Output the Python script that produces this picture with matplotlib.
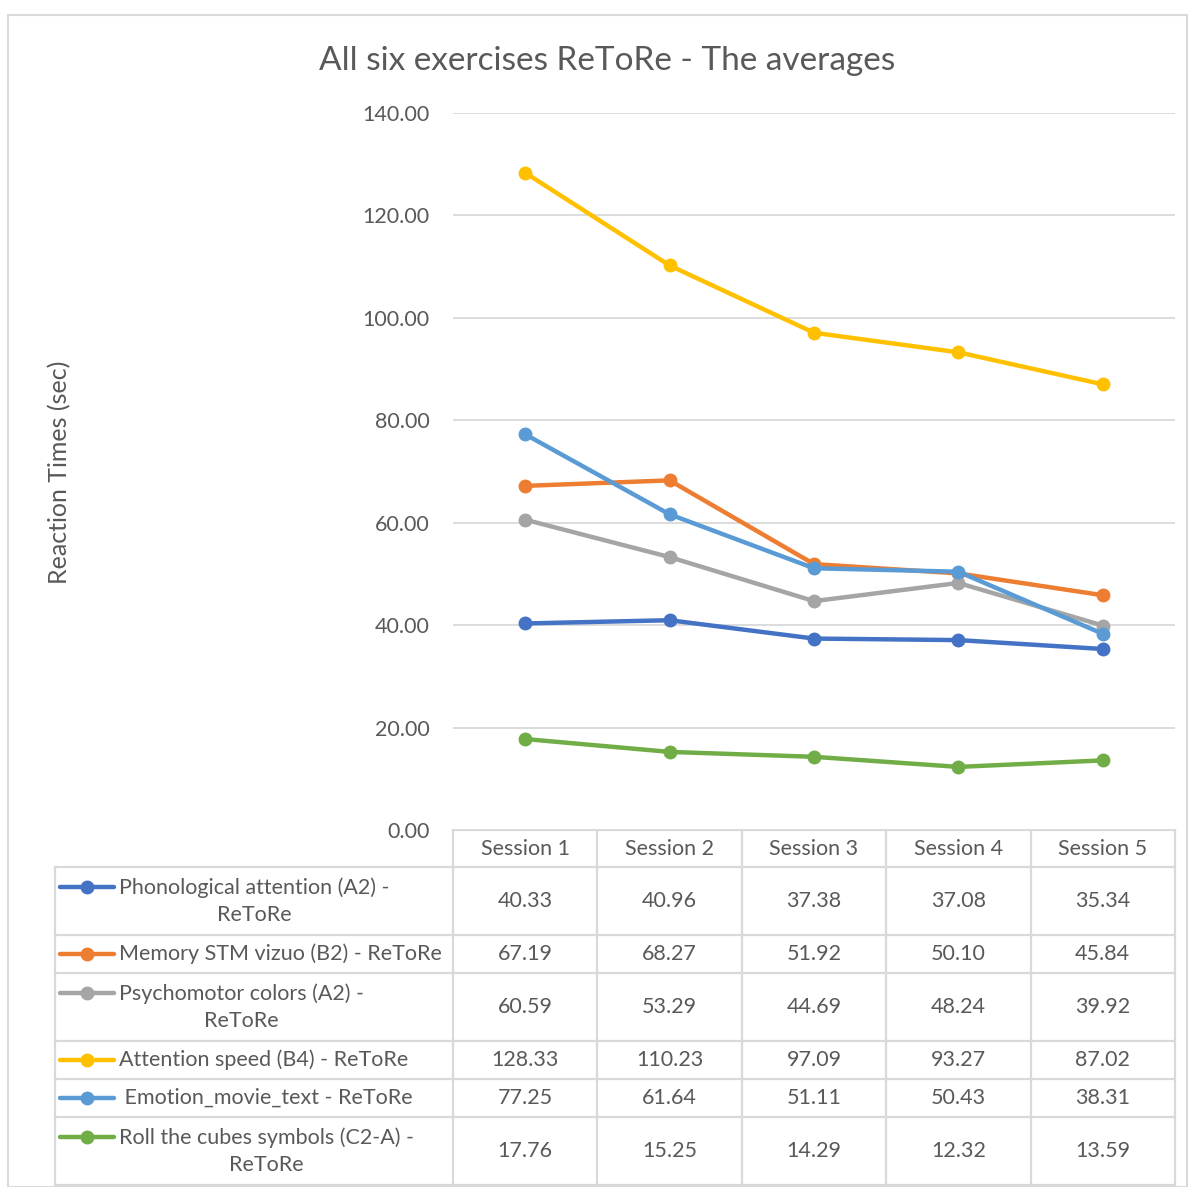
import numpy as np
import matplotlib.pyplot as plt
from matplotlib.patches import Rectangle

plt.rcParams['font.family'] = ['Lato', 'DejaVu Sans']

# data
sessions = ['Session 1', 'Session 2', 'Session 3', 'Session 4', 'Session 5']
labels = ['Phonological attention (A2) -\nReToRe',
          'Memory STM vizuo (B2) - ReToRe',
          'Psychomotor colors (A2) -\nReToRe',
          'Attention speed (B4) - ReToRe',
          ' Emotion_movie_text - ReToRe',
          'Roll the cubes symbols (C2-A) -\nReToRe']
phono = [40.33, 40.96, 37.38, 37.08, 35.34]
memory = [67.19, 68.27, 51.92, 50.10, 45.84]
psycho = [60.59, 53.29, 44.69, 48.24, 39.92]
speed = [128.33, 110.23, 97.09, 93.27, 87.02]
emotion = [77.25, 61.64, 51.11, 50.43, 38.31]
cubes = [17.76, 15.25, 14.29, 12.32, 13.59]
series = [phono, memory, psycho, speed, emotion, cubes]
colors = ['#4472C4', '#ED7D31', '#A5A5A5', '#FFC000', '#5B9BD5', '#70AD47']

W, H = 1189, 1187
fig = plt.figure(figsize=(W / 100, H / 100), dpi=100)
txt = '#595959'
grid = '#D9D9D9'
fs = 15.5

# chart border
fig.patches.append(Rectangle((8 / W, 0), (1187 - 8) / W, 1 - 15 / H,
                             transform=fig.transFigure, fill=False,
                             edgecolor=grid, lw=1.5))

# plot area
x0, x1, ytop, ybot = 453, 1175, 113, 830
ax = fig.add_axes([x0 / W, 1 - ybot / H, (x1 - x0) / W, (ybot - ytop) / H])
x = np.arange(len(sessions))
for vals, c in zip(series, colors):
    ax.plot(x, vals, color=c, lw=3.2, marker='o', ms=9, solid_capstyle='round')
ax.set_xlim(-0.5, len(sessions) - 0.5)
ax.set_ylim(0, 140)
ax.set_yticks(np.arange(0, 141, 20))
ax.set_yticklabels([f'{v:.2f}' for v in np.arange(0, 141, 20)], fontsize=fs, color=txt)
ax.set_xticks([])
ax.tick_params(axis='y', length=0, pad=17)
ax.grid(axis='y', color=grid, lw=1.3)
ax.set_axisbelow(True)
for s in ax.spines.values():
    s.set_visible(False)

fig.text(607 / W, 1 - 61 / H, 'All six exercises ReToRe - The averages',
         ha='center', va='center', fontsize=24, color=txt)
fig.text(60 / W, 1 - 472 / H, 'Reaction Times (sec)', rotation=90,
         ha='center', va='center', fontsize=18, color=txt)

# data table
tx = fig.add_axes([0, 0, 1, 1], zorder=-1)
tx.set_xlim(0, W)
tx.set_ylim(H, 0)
tx.axis('off')
row_h = [68 if '\n' in l else 38 for l in labels]
edges = [867]
for h in row_h:
    edges.append(edges[-1] + h)
col_w = (x1 - x0) / len(sessions)
cols = [x0 + i * col_w for i in range(len(sessions) + 1)]
lk = dict(color=grid, lw=1.6)
tx.plot([x0, x1], [830, 830], **lk)
for cx in cols:
    tx.plot([cx, cx], [830, edges[-1]], **lk)
tx.plot([55, 55], [867, edges[-1]], **lk)
for e in edges:
    tx.plot([55, x1], [e, e], **lk)
for i, s in enumerate(sessions):
    tx.text(cols[i] + col_w / 2, 849, s, ha='center', va='center', fontsize=fs, color=txt)
for r, (lab, vals, c) in enumerate(zip(labels, series, colors)):
    yc = (edges[r] + edges[r + 1]) / 2
    ly = yc - 14 if '\n' in lab else yc
    tx.plot([60, 114], [ly, ly], color=c, lw=3.2, solid_capstyle='round')
    tx.plot([87], [ly], color=c, marker='o', ms=9)
    tx.text(119, yc, lab, ha='left', va='center', multialignment='center',
            fontsize=fs, color=txt, linespacing=1.45)
    for i, v in enumerate(vals):
        tx.text(cols[i] + col_w / 2, yc, f'{v:.2f}', ha='center', va='center',
                fontsize=fs, color=txt)

fig.savefig('out.png', dpi=100)
